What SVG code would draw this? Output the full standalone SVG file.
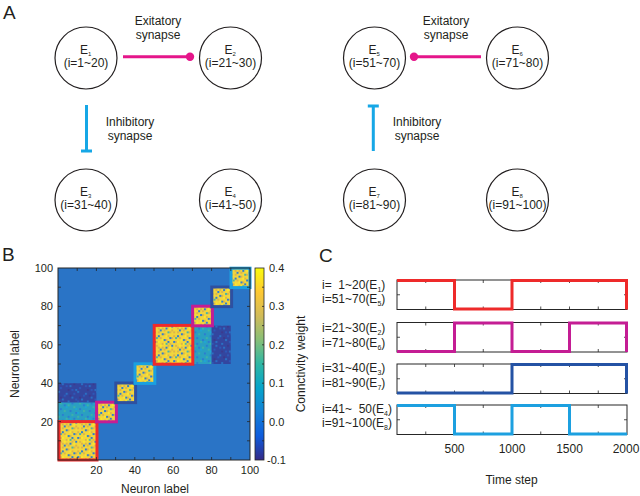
<svg xmlns="http://www.w3.org/2000/svg" width="640" height="496" viewBox="0 0 640 496">
<style>
text{font-family:"Liberation Sans",Arial,sans-serif;fill:#231f20}
.node circle{fill:#fff;stroke:#231f20;stroke-width:1.2}
.nE{font-size:12px}
.nsub{font-size:6px}
.ni{font-size:12px;text-anchor:middle}
.lbl{font-size:12px;text-anchor:middle}
.panel{font-size:19px}
.exc{stroke:#e5168a;stroke-width:3;fill:none}
.excdot{fill:#e5168a}
.inh{stroke:#16a7e6;stroke-width:3;fill:none}
.ax{font-size:11px}
.axr{font-size:11px;text-anchor:end}
.axm{font-size:11px;text-anchor:middle}
.cx{font-size:12px;text-anchor:middle}
.frame{fill:none;stroke:#262626;stroke-width:1}
.tick{stroke:#262626;stroke-width:0.8;fill:none}
.o{fill:#dcb44c}.b{fill:#2f7dd0}.t{fill:#48b3a8}.y{fill:#fbe82a}
.tg{fill:#3cb3a6}.tb{fill:#2b7dd0}.tl{fill:#1ea5d6}
.db{fill:#2a70c4}.dm{fill:#2d58b8}.dd{fill:#3c3a8e}
.bord{fill:none;stroke-width:3}
.trace{fill:none;stroke-width:3;stroke-linejoin:miter}
.clab{font-size:12px}
.sub{font-size:7px}
</style>
<defs>
<pattern id="pY" patternUnits="userSpaceOnUse" x="58" y="268" width="19.2" height="19.2">
<rect width="19.2" height="19.2" fill="#f2d63c"/>
<rect class="o" x="1.92" y="0" width="2" height="2"/><rect class="o" x="7.68" y="1.92" width="2" height="2"/>
<rect class="o" x="13.44" y="0" width="2" height="2"/><rect class="o" x="3.84" y="5.76" width="2" height="2"/>
<rect class="o" x="15.36" y="5.76" width="2" height="2"/><rect class="o" x="9.6" y="7.68" width="2" height="2"/>
<rect class="o" x="0" y="9.6" width="2" height="2"/><rect class="o" x="5.76" y="11.52" width="2" height="2"/>
<rect class="o" x="17.28" y="11.52" width="2" height="2"/><rect class="o" x="11.52" y="13.44" width="2" height="2"/>
<rect class="o" x="1.92" y="15.36" width="2" height="2"/><rect class="o" x="7.68" y="17.28" width="2" height="2"/>
<rect class="o" x="15.36" y="17.28" width="2" height="2"/><rect class="o" x="13.44" y="9.6" width="2" height="2"/>
<rect class="o" x="3.84" y="1.92" width="2" height="2"/><rect class="o" x="17.28" y="3.84" width="2" height="2"/>
<rect class="o" x="9.6" y="3.84" width="2" height="2"/><rect class="o" x="0" y="5.76" width="2" height="2"/>
<rect class="b" x="5.76" y="3.84" width="2" height="2"/><rect class="b" x="11.52" y="1.92" width="2" height="2"/>
<rect class="b" x="0" y="15.36" width="2" height="2"/><rect class="b" x="15.36" y="11.52" width="2" height="2"/>
<rect class="b" x="9.6" y="13.44" width="2" height="2"/><rect class="b" x="3.84" y="9.6" width="2" height="2"/>
<rect class="b" x="17.28" y="0" width="2" height="2"/><rect class="b" x="7.68" y="7.68" width="2" height="2"/>
<rect class="b" x="13.44" y="15.36" width="2" height="2"/>
<rect class="t" x="13.44" y="5.76" width="2" height="2"/><rect class="t" x="1.92" y="11.52" width="2" height="2"/>
<rect class="t" x="11.52" y="17.28" width="2" height="2"/>
<rect class="y" x="5.76" y="0" width="2" height="2"/><rect class="y" x="11.52" y="9.6" width="2" height="2"/>
<rect class="y" x="15.36" y="1.92" width="2" height="2"/><rect class="y" x="3.84" y="15.36" width="2" height="2"/>
<rect class="y" x="9.6" y="17.28" width="2" height="2"/><rect class="y" x="7.68" y="13.44" width="2" height="2"/>
</pattern>
<pattern id="pT" patternUnits="userSpaceOnUse" x="58" y="268" width="19.2" height="19.2">
<rect width="19.2" height="19.2" fill="#2a9fc2"/>
<rect class="tg" x="1.92" y="0" width="2" height="2"/><rect class="tg" x="9.6" y="1.92" width="2" height="2"/>
<rect class="tg" x="15.36" y="3.84" width="2" height="2"/><rect class="tg" x="5.76" y="7.68" width="2" height="2"/>
<rect class="tg" x="13.44" y="11.52" width="2" height="2"/><rect class="tg" x="0" y="13.44" width="2" height="2"/>
<rect class="tg" x="7.68" y="15.36" width="2" height="2"/><rect class="tg" x="17.28" y="17.28" width="2" height="2"/>
<rect class="tb" x="5.76" y="1.92" width="2" height="2"/><rect class="tb" x="13.44" y="0" width="2" height="2"/>
<rect class="tb" x="1.92" y="5.76" width="2" height="2"/><rect class="tb" x="11.52" y="7.68" width="2" height="2"/>
<rect class="tb" x="17.28" y="9.6" width="2" height="2"/><rect class="tb" x="3.84" y="11.52" width="2" height="2"/>
<rect class="tb" x="9.6" y="13.44" width="2" height="2"/><rect class="tb" x="15.36" y="15.36" width="2" height="2"/>
<rect class="tb" x="3.84" y="17.28" width="2" height="2"/>
<rect class="tl" x="7.68" y="3.84" width="2" height="2"/><rect class="tl" x="0" y="9.6" width="2" height="2"/>
<rect class="tl" x="11.52" y="15.36" width="2" height="2"/><rect class="tl" x="17.28" y="5.76" width="2" height="2"/>
</pattern>
<pattern id="pD" patternUnits="userSpaceOnUse" x="58" y="268" width="19.2" height="19.2">
<rect width="19.2" height="19.2" fill="#33469f"/>
<rect class="db" x="3.84" y="0" width="2" height="2"/><rect class="db" x="11.52" y="1.92" width="2" height="2"/>
<rect class="db" x="17.28" y="5.76" width="2" height="2"/><rect class="db" x="0" y="7.68" width="2" height="2"/>
<rect class="db" x="7.68" y="9.6" width="2" height="2"/><rect class="db" x="13.44" y="13.44" width="2" height="2"/>
<rect class="db" x="3.84" y="15.36" width="2" height="2"/><rect class="db" x="9.6" y="17.28" width="2" height="2"/>
<rect class="dm" x="7.68" y="1.92" width="2" height="2"/><rect class="dm" x="1.92" y="3.84" width="2" height="2"/>
<rect class="dm" x="13.44" y="5.76" width="2" height="2"/><rect class="dm" x="5.76" y="11.52" width="2" height="2"/>
<rect class="dm" x="15.36" y="9.6" width="2" height="2"/><rect class="dm" x="0" y="17.28" width="2" height="2"/>
<rect class="dm" x="17.28" y="15.36" width="2" height="2"/>
<rect class="dd" x="9.6" y="5.76" width="2" height="2"/><rect class="dd" x="1.92" y="13.44" width="2" height="2"/>
<rect class="dd" x="15.36" y="0" width="2" height="2"/><rect class="dd" x="11.52" y="11.52" width="2" height="2"/>
</pattern>
<linearGradient id="parula" x1="0" y1="0" x2="0" y2="1">
<stop offset="0" stop-color="#f9fb0e"/>
<stop offset="0.125" stop-color="#fec832"/>
<stop offset="0.25" stop-color="#d1bb59"/>
<stop offset="0.375" stop-color="#87bf77"/>
<stop offset="0.5" stop-color="#2eb7a4"/>
<stop offset="0.625" stop-color="#06a4ca"/>
<stop offset="0.75" stop-color="#1481d6"/>
<stop offset="0.875" stop-color="#0f5cdd"/>
<stop offset="1" stop-color="#352a87"/>
</linearGradient>
</defs>

<rect width="640" height="496" fill="#fff"/>

<!-- Panel A -->
<text class="panel" x="3" y="19">A</text>

<g id="connectors">
<line class="exc" x1="123" y1="56.7" x2="190" y2="56.7"/>
<circle class="excdot" cx="190" cy="56.7" r="4.2"/>
<line class="exc" x1="414" y1="56.7" x2="481" y2="56.7"/>
<circle class="excdot" cx="414" cy="56.7" r="4.2"/>
<path class="inh" d="M86.5,105 V151 M81,151 H92"/>
<path class="inh" d="M373.3,151 V106 M367.8,106 H378.8"/>
<text class="lbl" x="158" y="25">Exitatory</text>
<text class="lbl" x="158" y="38.5">synapse</text>
<text class="lbl" x="446" y="25">Exitatory</text>
<text class="lbl" x="446" y="38.5">synapse</text>
<text class="lbl" x="130" y="125.5">Inhibitory</text>
<text class="lbl" x="130" y="139.5">synapse</text>
<text class="lbl" x="417" y="125.5">Inhibitory</text>
<text class="lbl" x="417" y="139.5">synapse</text>
</g>

<g id="node-E1" class="node"><circle cx="86" cy="58" r="31"/>
<text class="nE" x="80" y="53.5">E<tspan class="nsub" dy="2.5">1</tspan></text>
<text class="ni" x="86" y="66.5">(i=1~20)</text></g>
<g id="node-E2" class="node"><circle cx="230.5" cy="58" r="31"/>
<text class="nE" x="224.5" y="53.5">E<tspan class="nsub" dy="2.5">2</tspan></text>
<text class="ni" x="230.5" y="66.5">(i=21~30)</text></g>
<g id="node-E3" class="node"><circle cx="86" cy="200" r="31"/>
<text class="nE" x="80" y="195.5">E<tspan class="nsub" dy="2.5">3</tspan></text>
<text class="ni" x="86" y="208.5">(i=31~40)</text></g>
<g id="node-E4" class="node"><circle cx="230.5" cy="200" r="31"/>
<text class="nE" x="224.5" y="195.5">E<tspan class="nsub" dy="2.5">4</tspan></text>
<text class="ni" x="230.5" y="208.5">(i=41~50)</text></g>
<g id="node-E5" class="node"><circle cx="374.5" cy="58" r="31"/>
<text class="nE" x="368.5" y="53.5">E<tspan class="nsub" dy="2.5">5</tspan></text>
<text class="ni" x="374.5" y="66.5">(i=51~70)</text></g>
<g id="node-E6" class="node"><circle cx="517.5" cy="58" r="31"/>
<text class="nE" x="511.5" y="53.5">E<tspan class="nsub" dy="2.5">6</tspan></text>
<text class="ni" x="517.5" y="66.5">(i=71~80)</text></g>
<g id="node-E7" class="node"><circle cx="374.5" cy="200" r="31"/>
<text class="nE" x="368.5" y="195.5">E<tspan class="nsub" dy="2.5">7</tspan></text>
<text class="ni" x="374.5" y="208.5">(i=81~90)</text></g>
<g id="node-E8" class="node"><circle cx="517.5" cy="200" r="31"/>
<text class="nE" x="511.5" y="195.5">E<tspan class="nsub" dy="2.5">8</tspan></text>
<text class="ni" x="517.5" y="208.5">(i=91~100)</text></g>

<!-- Panel B -->
<text class="panel" x="2" y="261">B</text>
<rect x="58" y="268" width="192" height="192" fill="#2a74c6"/>
<rect x="58" y="402.4" width="38.4" height="19.2" fill="url(#pT)"/>
<rect x="58" y="383.2" width="38.4" height="19.2" fill="url(#pD)"/>
<rect x="192.4" y="325.6" width="19.2" height="38.4" fill="url(#pT)"/>
<rect x="211.6" y="325.6" width="19.2" height="38.4" fill="url(#pD)"/>
<rect x="58" y="421.6" width="38.4" height="38.4" fill="url(#pY)"/>
<rect x="96.4" y="402.4" width="19.2" height="19.2" fill="url(#pY)"/>
<rect x="115.6" y="383.2" width="19.2" height="19.2" fill="url(#pY)"/>
<rect x="134.8" y="364" width="19.2" height="19.2" fill="url(#pY)"/>
<rect x="154" y="325.6" width="38.4" height="38.4" fill="url(#pY)"/>
<rect x="192.4" y="306.4" width="19.2" height="19.2" fill="url(#pY)"/>
<rect x="211.6" y="287.2" width="19.2" height="19.2" fill="url(#pY)"/>
<rect x="230.8" y="268" width="19.2" height="19.2" fill="url(#pY)"/>
<rect class="bord" stroke="#ee2a2a" x="59" y="421.6" width="38" height="38.4"/>
<rect class="bord" stroke="#c41d94" x="96.6" y="402.2" width="19.8" height="19.6"/>
<rect class="bord" stroke="#2e50a0" x="115.8" y="383" width="19.8" height="19.6"/>
<rect class="bord" stroke="#1aa0e0" x="135" y="363.8" width="19.8" height="19.6"/>
<rect class="bord" stroke="#ee2a2a" x="154.2" y="325.4" width="38.6" height="38.8"/>
<rect class="bord" stroke="#c41d94" x="192.6" y="306.2" width="19.8" height="19.6"/>
<rect class="bord" stroke="#2e50a0" x="211.8" y="287" width="19.8" height="19.6"/>
<rect class="bord" stroke="#1aa0e0" x="231" y="268.2" width="19" height="19.4"/>
<rect class="frame" x="58" y="268" width="192" height="192"/>
<path class="tick" d="M77.2,268v3M96.4,268v3M115.6,268v3M134.8,268v3M154,268v3M173.2,268v3M192.4,268v3M211.6,268v3M230.8,268v3
M77.2,460v-3M96.4,460v-3M115.6,460v-3M134.8,460v-3M154,460v-3M173.2,460v-3M192.4,460v-3M211.6,460v-3M230.8,460v-3
M58,440.8h3M58,421.6h3M58,402.4h3M58,383.2h3M58,364h3M58,344.8h3M58,325.6h3M58,306.4h3M58,287.2h3
M250,440.8h-3M250,421.6h-3M250,402.4h-3M250,383.2h-3M250,364h-3M250,344.8h-3M250,325.6h-3M250,306.4h-3M250,287.2h-3"/>
<text class="axr" x="53" y="272">100</text>
<text class="axr" x="53" y="310.4">80</text>
<text class="axr" x="53" y="348.8">60</text>
<text class="axr" x="53" y="387.2">40</text>
<text class="axr" x="53" y="425.6">20</text>
<text class="axm" x="96.4" y="474">20</text>
<text class="axm" x="134.8" y="474">40</text>
<text class="axm" x="173.2" y="474">60</text>
<text class="axm" x="211.6" y="474">80</text>
<text class="axm" x="250" y="474">100</text>
<text class="lbl" x="155" y="493">Neuron label</text>
<text class="lbl" transform="translate(18.5,364) rotate(-90)">Neuron label</text>
<rect x="255" y="268" width="9" height="192" fill="url(#parula)" stroke="#262626" stroke-width="0.8"/>
<path class="tick" d="M264,287.2h-2M264,306.4h-2M264,325.6h-2M264,344.8h-2M264,364h-2M264,383.2h-2M264,402.4h-2M264,421.6h-2M264,440.8h-2"/>
<text class="ax" x="269" y="272">0.4</text>
<text class="ax" x="269" y="310.4">0.3</text>
<text class="ax" x="269" y="348.8">0.2</text>
<text class="ax" x="269" y="387.2">0.1</text>
<text class="ax" x="269" y="425.6">0.0</text>
<text class="ax" x="267" y="464">-0.1</text>
<text class="lbl" transform="translate(305,364) rotate(-90)">Connctivity weight</text>

<!-- Panel C -->
<text class="panel" x="319" y="262">C</text>
<g class="frames">
<rect class="frame" x="397" y="280" width="230" height="29.5"/>
<rect class="frame" x="397" y="322.5" width="230" height="29.5"/>
<rect class="frame" x="397" y="364" width="230" height="29.5"/>
<rect class="frame" x="397" y="405" width="230" height="29.5"/>
<path class="tick" d="M425.75,280v3M454.5,280v3M483.25,280v3M512,280v3M540.75,280v3M569.5,280v3M598.25,280v3
M425.75,309.5v-3M454.5,309.5v-3M483.25,309.5v-3M512,309.5v-3M540.75,309.5v-3M569.5,309.5v-3M598.25,309.5v-3
M397,294.75h3M627,294.75h-3
M425.75,322.5v3M454.5,322.5v3M483.25,322.5v3M512,322.5v3M540.75,322.5v3M569.5,322.5v3M598.25,322.5v3
M425.75,352v-3M454.5,352v-3M483.25,352v-3M512,352v-3M540.75,352v-3M569.5,352v-3M598.25,352v-3
M397,337.25h3M627,337.25h-3
M425.75,364v3M454.5,364v3M483.25,364v3M512,364v3M540.75,364v3M569.5,364v3M598.25,364v3
M425.75,393.5v-3M454.5,393.5v-3M483.25,393.5v-3M512,393.5v-3M540.75,393.5v-3M569.5,393.5v-3M598.25,393.5v-3
M397,378.75h3M627,378.75h-3
M425.75,405v3M454.5,405v3M483.25,405v3M512,405v3M540.75,405v3M569.5,405v3M598.25,405v3
M425.75,434.5v-3M454.5,434.5v-3M483.25,434.5v-3M512,434.5v-3M540.75,434.5v-3M569.5,434.5v-3M598.25,434.5v-3
M397,419.75h3M627,419.75h-3"/>
</g>
<path class="trace" stroke="#ee2a2a" d="M397,280.5H454.5V309H512V280.5H626.5V309.5"/>
<path class="trace" stroke="#c41d94" d="M397,351.5H454.5V323H512V351.5H569.5V323H626.5V352"/>
<path class="trace" stroke="#2452a4" d="M397,393H512V364.5H626.5V393.5"/>
<path class="trace" stroke="#1ca0e0" d="M397,405.5H454.5V434H512V405.5H569.5V434H627"/>
<text class="clab" x="322" y="288.5" xml:space="preserve">i=  1~20(E<tspan class="sub" dy="3">1</tspan><tspan dy="-3">)</tspan></text>
<text class="clab" x="322" y="303">i=51~70(E<tspan class="sub" dy="3">5</tspan><tspan dy="-3">)</tspan></text>
<text class="clab" x="322" y="331.5">i=21~30(E<tspan class="sub" dy="3">2</tspan><tspan dy="-3">)</tspan></text>
<text class="clab" x="322" y="346.5">i=71~80(E<tspan class="sub" dy="3">6</tspan><tspan dy="-3">)</tspan></text>
<text class="clab" x="322" y="372">i=31~40(E<tspan class="sub" dy="3">3</tspan><tspan dy="-3">)</tspan></text>
<text class="clab" x="322" y="387">i=81~90(E<tspan class="sub" dy="3">7</tspan><tspan dy="-3">)</tspan></text>
<text class="clab" x="322" y="412.5" xml:space="preserve">i=41~  50(E<tspan class="sub" dy="3">4</tspan><tspan dy="-3">)</tspan></text>
<text class="clab" x="322" y="427">i=91~100(E<tspan class="sub" dy="3">8</tspan><tspan dy="-3">)</tspan></text>
<text class="cx" x="454.5" y="453">500</text>
<text class="cx" x="512" y="453">1000</text>
<text class="cx" x="569.5" y="453">1500</text>
<text class="cx" x="626" y="453">2000</text>
<text class="cx" x="511.5" y="484">Time step</text>
</svg>
